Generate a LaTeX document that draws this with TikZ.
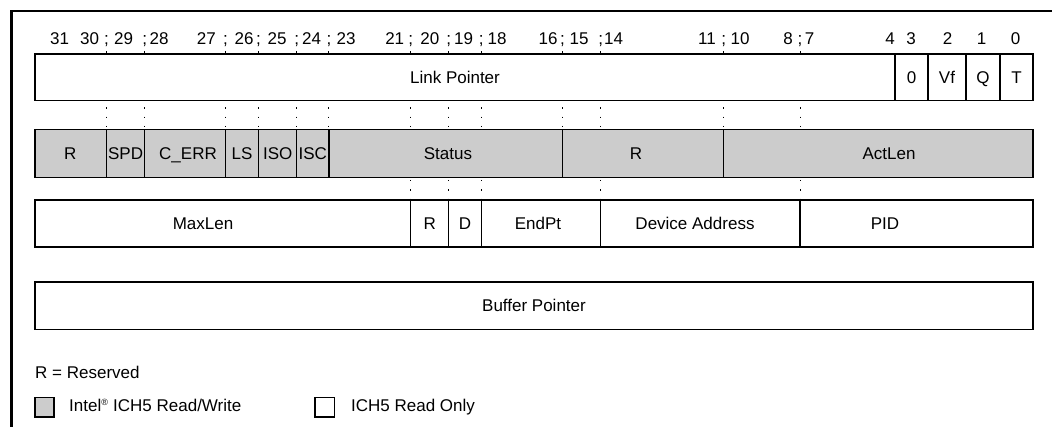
\documentclass[tikz,border=0pt]{standalone}
\usepackage{fontspec}
\setmainfont{Liberation Sans}
\begin{document}
\begin{tikzpicture}[x=1pt,y=-1pt,
  font=\fontsize{17}{20}\selectfont,
  cell/.style={draw=black,line width=1.2pt,fill=white},
  rwcell/.style={draw=black,line width=1.2pt,fill=gray!40},
  guide/.style={line width=1pt,dash pattern=on 1.5pt off 7.8pt},
  lbl/.style={inner sep=0pt,anchor=base},
  lblw/.style={inner sep=0pt,anchor=base west}]
\useasboundingbox (0,0) rectangle (1052,427);
% frame
\draw[line width=2.5pt] (11.5,427) -- (11.5,11.2) -- (1052,11.2);
% guides row1 -> row2
\foreach \x in {106.5,144.7,225.4,258.6,296.8,328.9,410.7,448.7,481.3,562.5,600.7,723.8,800}
  \draw[guide] (\x,51.5) -- (\x,129.5);
% guides row2 -> row3
\foreach \x in {410.7,448.7,481.3,600.7,800}
  \draw[guide] (\x,180) -- (\x,200);
% bit numbers
\foreach \x/\t in {59.7/31,89.7/30,123.7/29,159.2/28,206.3/27,244/26,277/25,311.7/24,346/23,394.7/21,429.8/20,463.6/19,497/18,548/16,579/15,613.5/14,707/11,740/10,788/8,809.6/7,890/4,911/3,947.5/2,981.7/1,1015.5/0}
  \node[lbl] (b\t) at (\x,45) {\t};
\foreach \x [count=\i] in {106.5,144.7,225.4,258.6,296.8,328.9,410.7,448.7,481.3,562.5,600.7,723.8,800}
  \node[lbl] (s\i) at (\x,45) {;};
% row 1
\draw[cell] (35,54) rectangle (895,100.5);
\draw[cell] (895,54) rectangle (928,100.5);
\draw[cell] (928,54) rectangle (966,100.5);
\draw[cell] (966,54) rectangle (1000,100.5);
\draw[cell] (1000,54) rectangle (1033,100.5);
\node[lbl] (lp) at (455,83.4) {Link Pointer};
\node[lbl] (zero) at (911.5,83.4) {0};
\node[lbl] (vf) at (947,83.4) {Vf};
\node[lbl] (q) at (983,83.4) {Q};
\node[lbl] (t) at (1016.5,83.4) {T};
% row 2
\foreach \a/\b in {35/106.5,106.5/144.7,144.7/225.4,225.4/258.6,258.6/296.8,296.8/328.9,328.9/562.5,562.5/723.8,723.8/1033}
  \draw[rwcell] (\a,129.5) rectangle (\b,177.5);
\node[lbl] (r2a) at (70.2,159.4) {R};
\node[lbl] (spd) at (125.6,159.4) {SPD};
\node[lbl] (cerr) at (188,159.4) {C\_ERR};
\node[lbl] (ls) at (242,159.4) {LS};
\node[lbl] (iso) at (277.7,159.4) {ISO};
\node[lbl] (isc) at (312.8,159.4) {ISC};
\node[lbl] (status) at (448,159.4) {Status};
\node[lbl] (r2b) at (636,159.4) {R};
\node[lbl] (actlen) at (889,159.4) {ActLen};
% row 3
\foreach \a/\b in {35/410.7,410.7/448.7,448.7/481.3,481.3/600.7,600.7/800,800/1033}
  \draw[cell] (\a,200) rectangle (\b,247);
\node[lbl] (maxlen) at (203,229.2) {MaxLen};
\node[lbl] (r3) at (429.8,229.2) {R};
\node[lbl] (d) at (465,229.2) {D};
\node[lbl] (endpt) at (538,229.2) {EndPt};
\node[lbl] (devaddr) at (695,229.2) {Device Address};
\node[lbl] (pid) at (885,229.2) {PID};
% row 4
\draw[cell] (35,282) rectangle (1033,329.5);
\node[lbl] (bp) at (534,311.5) {Buffer Pointer};
% legend
\node[lblw] (res) at (35,379) {R = Reserved};
\draw[rwcell] (35,397.5) rectangle (54,417);
\node[lblw] (rw) at (69,411.5) {Intel\textsuperscript{\fontsize{9}{9}\selectfont ®} ICH5 Read/Write};
\draw[cell] (315,397.5) rectangle (334.5,417);
\node[lblw] (ro) at (351,411.5) {ICH5 Read Only};
\end{tikzpicture}
\end{document}
